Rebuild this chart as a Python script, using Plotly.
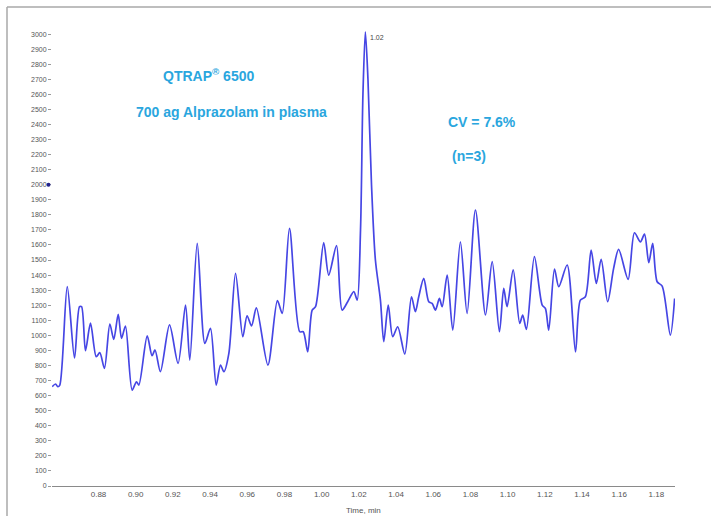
import plotly.graph_objects as go

# Time (min) and intensity (cps)
time_min = [0.8551, 0.8569, 0.8581, 0.8592, 0.8632, 0.8671, 0.8698, 0.8709, 0.8730, 0.8757,
            0.8788, 0.8807, 0.8832, 0.8861, 0.8882, 0.8906, 0.8924, 0.8945, 0.8981, 0.9004,
            0.9017, 0.9062, 0.9088, 0.9104, 0.9133, 0.9182, 0.9228, 0.9268, 0.9291, 0.9331,
            0.9372, 0.9402, 0.9433, 0.9456, 0.9474, 0.9501, 0.9537, 0.9576, 0.9599, 0.9623,
            0.9649, 0.9711, 0.9762, 0.9788, 0.9827, 0.9882, 0.9901, 0.9925, 0.9949, 0.9967,
            1.0011, 1.0038, 1.0080, 1.0110, 1.0140, 1.0173, 1.0191, 1.0209, 1.0222, 1.0235,
            1.0249, 1.0268, 1.0289, 1.0316, 1.0334, 1.0358, 1.0382, 1.0409, 1.0447, 1.0483,
            1.0504, 1.0522, 1.0549, 1.0576, 1.0594, 1.0612, 1.0633, 1.0648, 1.0675, 1.0705,
            1.0746, 1.0782, 1.0827, 1.0881, 1.0917, 1.0956, 1.0979, 1.0997, 1.1030, 1.1065,
            1.1081, 1.1101, 1.1144, 1.1186, 1.1203, 1.1221, 1.1252, 1.1275, 1.1320, 1.1365,
            1.1391, 1.1418, 1.1449, 1.1477, 1.1503, 1.1538, 1.1570, 1.1597, 1.1648, 1.1682,
            1.1714, 1.1736, 1.1759, 1.1780, 1.1804, 1.1831, 1.1875, 1.1898]
intensity = [659, 677, 659, 670, 1323, 850, 1190, 1190, 898, 1081,
             858, 885, 781, 1075, 973, 1139, 980, 1062, 637, 692,
             670, 996, 865, 903, 759, 1069, 814, 1201, 836, 1611,
             947, 1047, 670, 803, 759, 881, 1412, 991, 1130, 1062,
             1183, 803, 1230, 1146, 1710, 1024, 1024, 891, 1168, 1190,
             1615, 1400, 1595, 1168, 1223, 1290, 1234, 1700, 2600, 3015,
             2700, 2000, 1500, 1234, 958, 1201, 991, 1057, 876, 1256,
             1157, 1256, 1378, 1223, 1212, 1168, 1245, 1190, 1400, 1035,
             1621, 1146, 1832, 1135, 1489, 1024, 1312, 1190, 1434, 1080,
             1135, 1040, 1522, 1201, 1179, 1035, 1440, 1323, 1467, 891,
             1234, 1256, 1566, 1345, 1505, 1223, 1445, 1571, 1372, 1681,
             1621, 1672, 1482, 1611, 1356, 1327, 1002, 1245]

x_ticks = [0.88, 0.90, 0.92, 0.94, 0.96, 0.98, 1.00, 1.02, 1.04, 1.06, 1.08, 1.10, 1.12, 1.14, 1.16, 1.18]
y_ticks = list(range(0, 3001, 100))
peak_label = "1.02"
peak_time = 1.0235
peak_value = 3015

W, H = 711, 516
L, R, T, B = 52, 36, 19, 30
pw, ph = W - L - R, H - T - B

def px(x):
    return (x - L) / pw

def py(y):
    return (H - B - y) / ph

blue_text = "#2aa6de"

def label(text, x, y, size=14, color=blue_text):
    return dict(text=text, x=px(x), y=py(y), xref="paper", yref="paper",
                xanchor="center", yanchor="middle", showarrow=False,
                font=dict(size=size, color=color))

fig = go.Figure()
fig.add_trace(go.Scatter(x=time_min, y=intensity, mode="lines",
                         line=dict(color="#4646e4", width=1.7, shape="spline", smoothing=0.8),
                         hoverinfo="x+y", showlegend=False))

fig.update_layout(
    width=W, height=H,
    margin=dict(l=L, r=R, t=T, b=B),
    paper_bgcolor="white", plot_bgcolor="white",
    font=dict(family="Liberation Sans, Arial, sans-serif", color="#555555"),
    xaxis=dict(range=[0.855, 1.19], tickvals=x_ticks, ticktext=[f"{v:.2f}" for v in x_ticks],
               showgrid=False, zeroline=False, showline=True, linecolor="#8a8a8a", linewidth=1,
               ticks="", tickfont=dict(size=8, color="#555555")),
    yaxis=dict(range=[0, 3100], tickvals=y_ticks, showgrid=False, zeroline=False, showline=False,
               ticks="outside", ticklen=3, tickcolor="#999999", tickfont=dict(size=7, color="#555555")),
    annotations=[
        label("<b>QTRAP<sup>®</sup> 6500</b>", 208, 75),
        label("<b>700 ag Alprazolam in plasma</b>", 231, 112),
        label("<b>CV = 7.6%</b>", 482, 122),
        label("<b>(n=3)</b>", 469, 156),
        dict(text=peak_label, x=peak_time, y=peak_value, xref="x", yref="y", xanchor="left",
             yanchor="top", xshift=3, showarrow=False, font=dict(size=7, color="#444444")),
        label("Time, min", 363, 510, size=8, color="#555555"),
    ],
    shapes=[
        dict(type="line", xref="paper", yref="paper", x0=px(7), x1=px(W), y0=py(7), y1=py(7),
             line=dict(color="#a8a8a8", width=1.5)),
        dict(type="line", xref="paper", yref="paper", x0=px(7), x1=px(7), y0=py(7), y1=py(H),
             line=dict(color="#a8a8a8", width=1.5)),
        dict(type="circle", xref="paper", yref="y", x0=px(46.5), x1=px(50.5), y0=1987, y1=2013,
             fillcolor="#22228a", line=dict(width=0)),
    ],
)

fig.write_html("out.html")
